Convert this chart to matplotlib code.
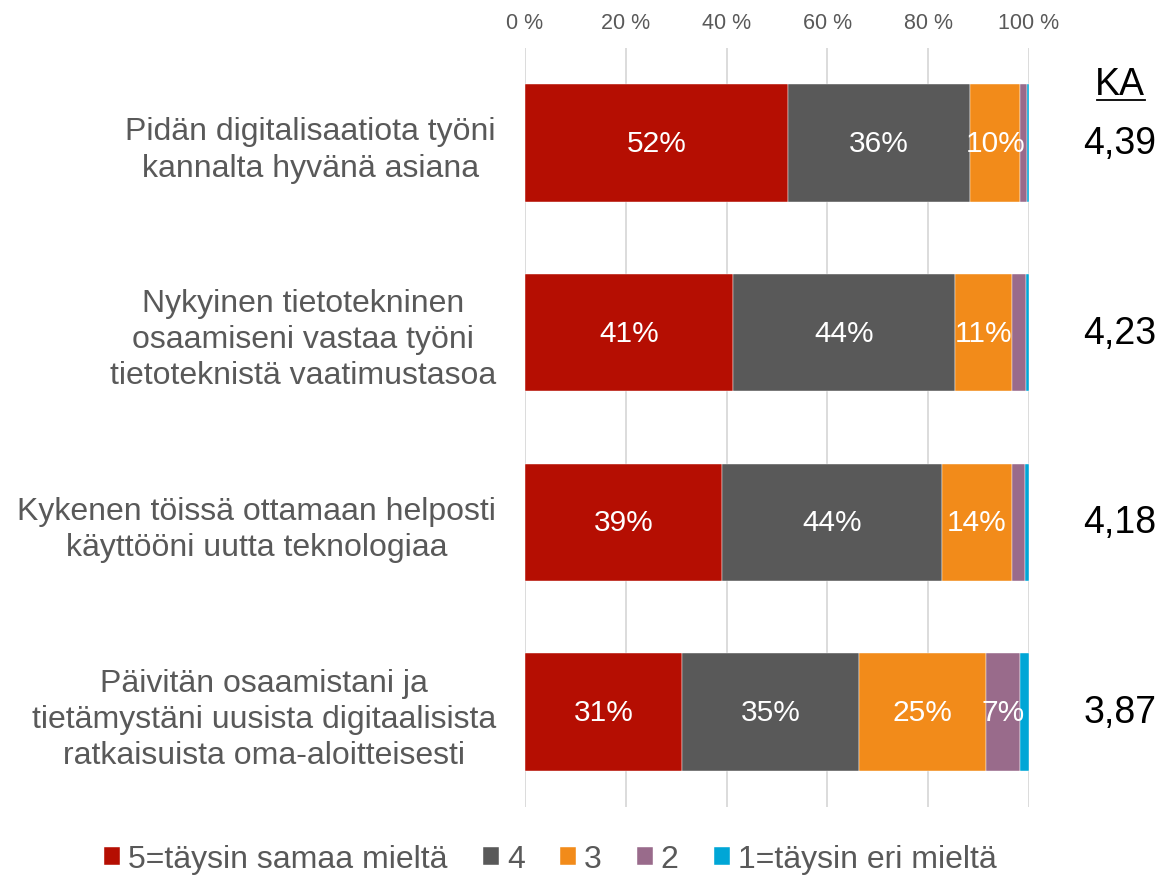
import numpy as np
import matplotlib.pyplot as plt

categories = [
    "Pidän digitalisaatiota työni\nkannalta hyvänä asiana",
    "Nykyinen tietotekninen\nosaamiseni vastaa työni\ntietoteknistä vaatimustasoa",
    "Kykenen töissä ottamaan helposti\nkäyttööni uutta teknologiaa",
    "Päivitän osaamistani ja\ntietämystäni uusista digitaalisista\nratkaisuista oma-aloitteisesti",
]
series_names = ["5=täysin samaa mieltä", "4", "3", "2", "1=täysin eri mieltä"]
s5 = [52.2, 41.2, 39.1, 31.2]
s4 = [36.1, 44.1, 43.7, 35.0]
s3 = [10.0, 11.4, 13.8, 25.3]
s2 = [1.4, 2.7, 2.7, 6.7]
s1 = [0.3, 0.6, 0.7, 1.8]
ka = ["4,39", "4,23", "4,18", "3,87"]

colors = ["#b50e02", "#595959", "#f28b1a", "#996b8b", "#00a6d6"]
gray = "#595959"

plt.rcParams["font.family"] = ["Liberation Sans", "DejaVu Sans"]

fig = plt.figure(figsize=(11.59, 8.79), dpi=100)
ax = fig.add_axes([525 / 1159, 1 - 808 / 879, 504 / 1159, 759 / 879])

y = np.arange(len(categories))
left = np.zeros(len(categories))
for name, vals, c in zip(series_names, [s5, s4, s3, s2, s1], colors):
    vals = np.array(vals)
    ax.barh(y, vals, left=left, height=0.62, color=c, label=name,
            edgecolor="white", linewidth=0.3, zorder=3)
    for yi, l, v in zip(y, left, vals):
        if v >= 5:
            ax.text(l + v / 2, yi, f"{v:.0f}%", ha="center", va="center",
                    color="white", fontsize=21.5, zorder=4)
    left += vals

ax.set_xlim(0, 100)
ax.set_ylim(3.5, -0.5)
ax.set_xticks(np.arange(0, 101, 20))
ax.set_xticklabels([f"{v} %" for v in range(0, 101, 20)])
ax.xaxis.tick_top()
ax.tick_params(axis="x", length=0, labelsize=15.5, labelcolor=gray, pad=11)
ax.set_yticks(y)
ax.set_yticklabels(categories, fontsize=23, color=gray, linespacing=1.27,
                   multialignment="center")
ax.tick_params(axis="y", length=0, pad=21)
ax.grid(axis="x", color="#d9d9d9", linewidth=1.3, zorder=0)
for s in ax.spines.values():
    s.set_visible(False)

fig.text(1120 / 1159, 1 - 85 / 879, "KA", ha="center", va="center",
         fontsize=27, color="black")
fig.add_artist(plt.Line2D([1097 / 1159, 1145 / 1159], [1 - 101 / 879] * 2,
                          color="black", linewidth=1.3))
for yi, k in zip(y, ka):
    ax.text(1.18, yi, k, transform=ax.get_yaxis_transform(), ha="center",
            va="center", fontsize=27, color="black")

fig.legend(loc="center", bbox_to_anchor=(0.475, 1 - 860 / 879), ncol=5,
           frameon=False, fontsize=23, handlelength=0.5, handleheight=0.5,
           handletextpad=0.25, columnspacing=1.1, labelcolor=gray)

fig.savefig("out.png", dpi=100)
